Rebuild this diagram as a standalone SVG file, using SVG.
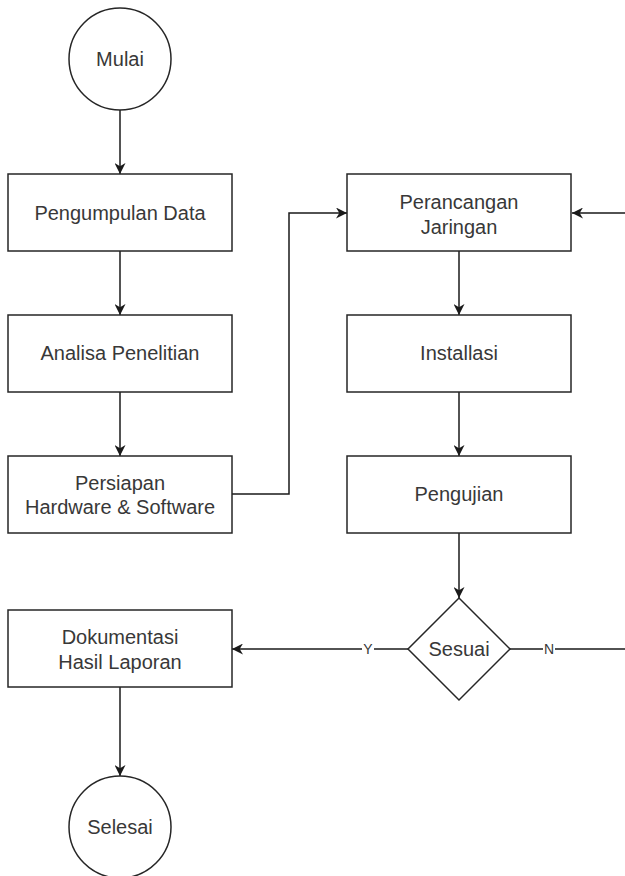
<svg xmlns="http://www.w3.org/2000/svg" width="625" height="876" viewBox="0 0 625 876">
<style>
.n{fill:#fff;stroke:#262626;stroke-width:1.5}
.t{font-family:"Liberation Sans",Arial,sans-serif;font-size:20px;fill:#383838;text-anchor:middle}
.l{font-family:"Liberation Sans",Arial,sans-serif;font-size:14px;fill:#383838;text-anchor:middle}
.c{fill:none;stroke:#1a1a1a;stroke-width:1.5}
</style>
<defs>
<marker id="a" viewBox="0 0 10 10" refX="10" refY="5" markerWidth="11" markerHeight="11" markerUnits="userSpaceOnUse" orient="auto">
<path d="M0,0 L10,5 L0,10 L3,5 z" fill="#1a1a1a"/>
</marker>
</defs>
<rect width="625" height="876" fill="#fff"/>
<g id="connectors">
<path class="c" d="M120,110 V174" marker-end="url(#a)"/>
<path class="c" d="M120,251 V315" marker-end="url(#a)"/>
<path class="c" d="M120,392 V456" marker-end="url(#a)"/>
<path class="c" d="M232,494 H289 V213 H347" marker-end="url(#a)"/>
<path class="c" d="M459,251 V315" marker-end="url(#a)"/>
<path class="c" d="M459,392 V456" marker-end="url(#a)"/>
<path class="c" d="M459,533 V598" marker-end="url(#a)"/>
<path class="c" d="M408,649 H232" marker-end="url(#a)"/>
<path class="c" d="M510,649 H628 V213 H572" marker-end="url(#a)"/>
<path class="c" d="M120,687 V776" marker-end="url(#a)"/>
<rect x="362" y="641" width="12" height="16" fill="#fff"/>
<text class="l" x="368" y="654">Y</text>
<rect x="543" y="641" width="12" height="16" fill="#fff"/>
<text class="l" x="549" y="654">N</text>
</g>
<g id="mulai"><circle class="n" cx="120" cy="59" r="51"/><text class="t" x="120" y="66">Mulai</text></g>
<g id="pengumpulan"><rect class="n" x="8" y="174" width="224" height="77"/><text class="t" x="120" y="220">Pengumpulan Data</text></g>
<g id="analisa"><rect class="n" x="8" y="315" width="224" height="77"/><text class="t" x="120" y="360">Analisa Penelitian</text></g>
<g id="persiapan"><rect class="n" x="8" y="456" width="224" height="77"/><text class="t" x="120" y="490">Persiapan</text><text class="t" x="120" y="514">Hardware &amp; Software</text></g>
<g id="perancangan"><rect class="n" x="347" y="174" width="224" height="77"/><text class="t" x="459" y="209">Perancangan</text><text class="t" x="459" y="234">Jaringan</text></g>
<g id="installasi"><rect class="n" x="347" y="315" width="224" height="77"/><text class="t" x="459" y="360">Installasi</text></g>
<g id="pengujian"><rect class="n" x="347" y="456" width="224" height="77"/><text class="t" x="459" y="501">Pengujian</text></g>
<g id="sesuai"><path class="n" d="M459,598 L510,649 L459,700 L408,649 Z"/><text class="t" x="459" y="656">Sesuai</text></g>
<g id="dokumentasi"><rect class="n" x="8" y="610" width="224" height="77"/><text class="t" x="120" y="644">Dokumentasi</text><text class="t" x="120" y="669">Hasil Laporan</text></g>
<g id="selesai"><circle class="n" cx="120" cy="827" r="51"/><text class="t" x="120" y="834">Selesai</text></g>
</svg>
